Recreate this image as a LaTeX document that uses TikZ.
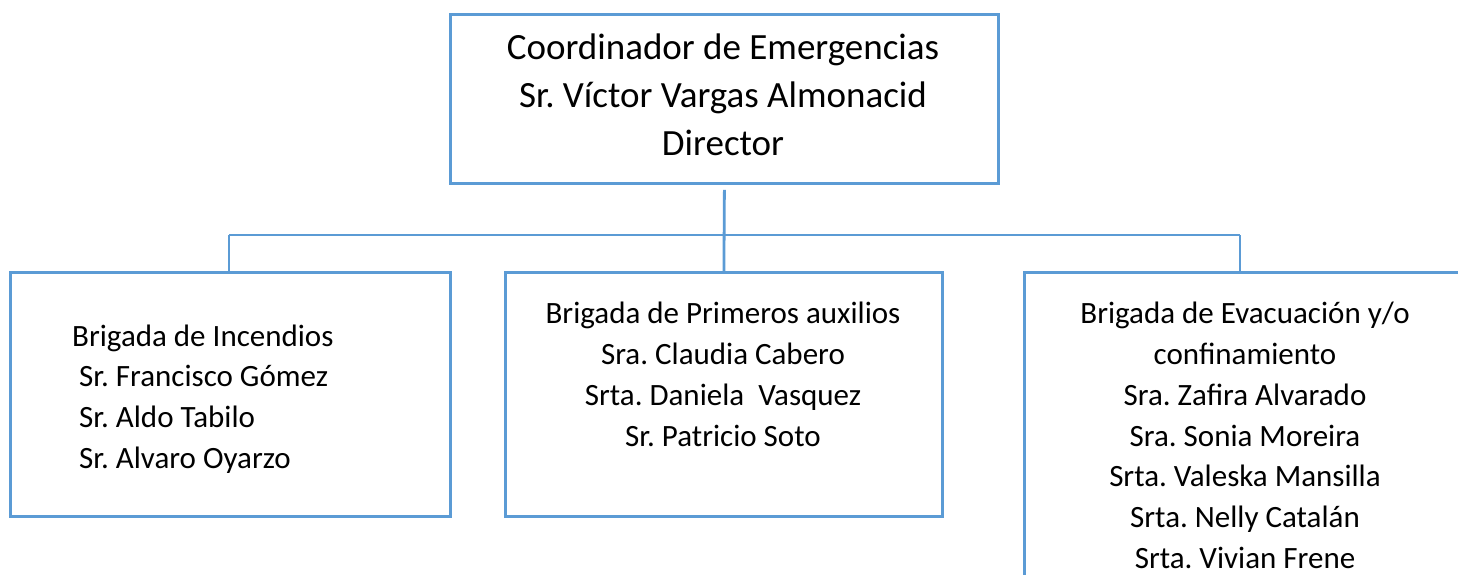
\documentclass[tikz,border=0pt]{standalone}
\usepackage{fontspec}
\setmainfont{Carlito}
\frenchspacing
\definecolor{wblue}{HTML}{5B9BD5}
\begin{document}
\begin{tikzpicture}[x=1pt,y=-1pt,
  box/.style={draw=wblue,line width=2.8pt,rectangle,inner sep=0pt,anchor=north west},
  conn/.style={draw=wblue,line width=2.8pt},
  big/.style={font=\fontsize{37}{48}\selectfont,align=center,inner sep=0pt},
  small/.style={font=\fontsize{31}{40.8}\selectfont,inner sep=0pt}]
\useasboundingbox (0,0) rectangle (1458,574);
\clip (0,0) rectangle (1458,574);
\node[box,minimum width=548pt,minimum height=169pt] (top) at (449,13) {};
\node[box,minimum width=440pt,minimum height=244pt] (left) at (9,271) {};
\node[box,minimum width=437pt,minimum height=244pt] (mid) at (504,271) {};
\node[box,minimum width=480pt,minimum height=340pt] (right) at (1023,271) {};
\node[big] (ttop) at (723,95) {Coordinador de Emergencias\\Sr. Víctor Vargas Almonacid\\Director};
\node[small,align=left,anchor=west] (tleft) at (72,399) {Brigada de Incendios\\\hspace*{7pt}Sr. Francisco Gómez\\\hspace*{7pt}Sr. Aldo Tabilo\\\hspace*{7pt}Sr. Alvaro Oyarzo};
\node[small,align=center] (tmid) at (723,374.5) {Brigada de Primeros auxilios\\Sra. Claudia Cabero\\Srta. Daniela\ \ Vasquez\\Sr. Patricio Soto};
\node[small,align=center] (tright) at (1245,435.5) {Brigada de Evacuación y/o\\confinamiento\\Sra. Zafira Alvarado\\Sra. Sonia Moreira\\Srta. Valeska Mansilla\\Srta. Nelly Catalán\\Srta. Vivian Frene};
\coordinate (hl) at (229,235);
\coordinate (hr) at (1240,235);
\draw[conn] ([yshift=-5pt]top.south) -- (mid.north);
\draw[conn] (hl) -- (hr);
\draw[conn] (hl) -- (hl |- left.north);
\draw[conn] (hr) -- (hr |- right.north);
\end{tikzpicture}
\end{document}
